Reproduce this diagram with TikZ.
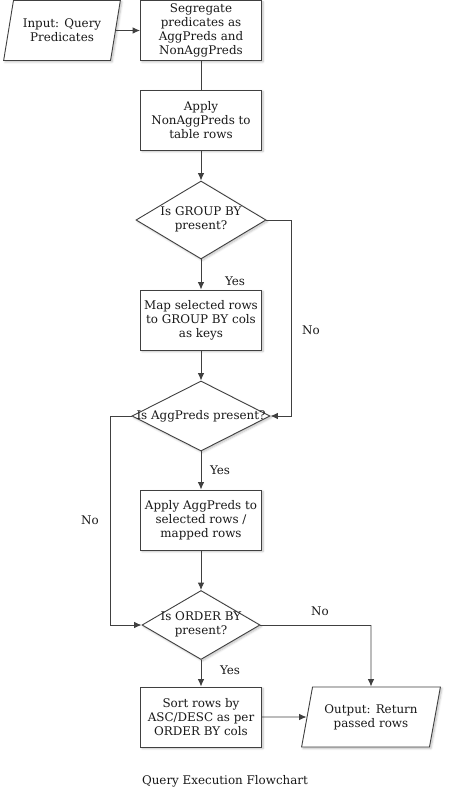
\documentclass[tikz,border=0pt]{standalone}
\usepackage{fontspec}
\setmainfont{DejaVu Serif}
\usetikzlibrary{shapes.geometric,arrows.meta,shadows.blur}
\begin{document}
\begin{tikzpicture}[x=1pt,y=-1pt,
  every node/.style={font=\fontsize{11.9}{14}\selectfont, text=black!90},
  shade/.style={blur shadow={shadow blur steps=6, shadow xshift=1.5pt, shadow yshift=-1.5pt, shadow opacity=25}},
  stepbox/.style={draw=black!75, line width=0.9pt, fill=white, minimum width=121pt, minimum height=60pt, inner sep=0pt, align=center, shade},
  io/.style={trapezium, trapezium left angle=71, trapezium right angle=109, trapezium stretches=true, draw=black!75, line width=0.9pt, fill=white, minimum height=60pt, inner sep=0pt, align=center, shade},
  dec/.style={diamond, draw=black!75, line width=0.9pt, fill=white, inner sep=0pt, shade},
  conn/.style={draw=black!75, line width=0.9pt},
  arr/.style={conn, -{Latex[length=7.5pt,width=6.5pt]}},
  lab/.style={inner sep=1pt}
]
\useasboundingbox (0,0) rectangle (454,805);

\node[io, minimum width=117pt] (in) at (62,30.5) {Input: Query\\Predicates};
\node[stepbox] (seg) at (201,30.5) {Segregate\\predicates as\\AggPreds and\\NonAggPreds};
\node[stepbox] (nonagg) at (201,120) {Apply\\NonAggPreds to\\table rows};
\node[dec, minimum width=130pt, minimum height=78pt] (d1) at (201,220)
  {\makebox[0pt]{\begin{tabular}{@{}c@{}}Is GROUP BY\\present?\end{tabular}}};
\node[stepbox] (map) at (201,320) {Map selected rows\\to GROUP BY cols\\as keys};
\node[dec, minimum width=138pt, minimum height=70pt] (d2) at (201,416)
  {\makebox[0pt]{Is AggPreds present?}};
\node[stepbox] (agg) at (201,520) {Apply AggPreds to\\selected rows /\\mapped rows};
\node[dec, minimum width=118pt, minimum height=69pt] (d3) at (201,625)
  {\makebox[0pt]{\begin{tabular}{@{}c@{}}Is ORDER BY\\present?\end{tabular}}};
\node[stepbox] (sort) at (201,717) {Sort rows by\\ASC/DESC as per\\ORDER BY cols};
\node[io, minimum width=139pt] (out) at (371,717) {Output: Return\\passed rows};

\coordinate (c1) at (291,220);
\coordinate (c2) at (291,416);
\coordinate (c3) at (110,416);
\coordinate (c4) at (110,625);
\coordinate (c5) at (371,625);

\draw[arr] (in.east) -- (seg.west);
\draw[conn] (seg.south) -- (nonagg.north);
\draw[arr] (nonagg.south) -- (d1.north);
\draw[arr] (d1.south) -- (map.north);
\draw[conn] (d1.east) -- (c1);
\draw[arr] (c1) -- (c2) -- (d2.east);
\draw[arr] (map.south) -- (d2.north);
\draw[arr] (d2.south) -- (agg.north);
\draw[conn] (d2.west) -- (c3);
\draw[arr] (c3) -- (c4) -- (d3.west);
\draw[arr] (agg.south) -- (d3.north);
\draw[arr] (d3.south) -- (sort.north);
\draw[conn] (d3.east) -- (c5);
\draw[arr] (c5) -- (out.north);
\draw[arr] (sort.east) -- (out.west);

\node[lab] (y1) at (235,281) {Yes};
\node[lab] (n1) at (311,330) {No};
\node[lab] (y2) at (220,470) {Yes};
\node[lab] (n2) at (90,520) {No};
\node[lab] (n3) at (320,611) {No};
\node[lab] (y3) at (230,670) {Yes};
\node[lab] (cap) at (225,781) {Query Execution Flowchart};
\end{tikzpicture}
\end{document}
